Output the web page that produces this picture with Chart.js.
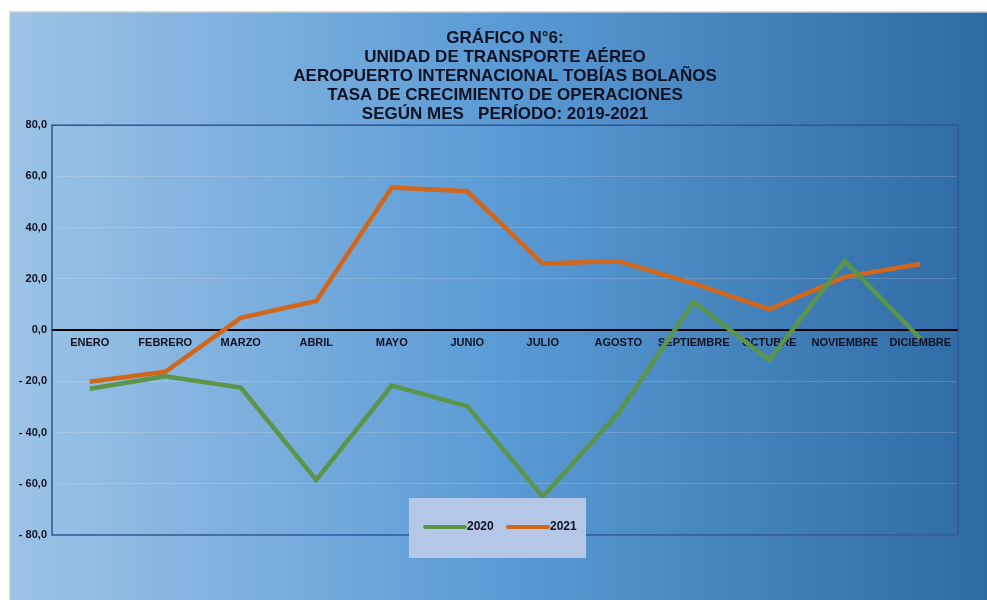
<!DOCTYPE html>
<html>
<head>
<meta charset="utf-8">
<script src="https://cdn.jsdelivr.net/npm/chart.js@4.4.1/dist/chart.umd.min.js"></script>
<style>
  html, body { margin: 0; padding: 0; background: #fff; }
  #wrap { width: 987px; height: 600px; }
</style>
</head>
<body>
<div id="wrap"><canvas id="tasaChart" width="987" height="600"></canvas></div>
<script>
// Datos
const meses = ["ENERO", "FEBRERO", "MARZO", "ABRIL", "MAYO", "JUNIO", "JULIO",
    "AGOSTO", "SEPTIEMBRE", "OCTUBRE", "NOVIEMBRE", "DICIEMBRE"];
const tasa2020 = [-22.9, -18.0, -22.4, -58.5, -21.7, -29.7, -65.0, -32.5, 11.0, -11.7, 26.9, -3.3];
const tasa2021 = [-20.2, -16.3, 4.8, 11.4, 55.7, 54.2, 26.0, 26.9, 18.2, 8.1, 20.8, 25.8];
const tituloLineas = [
    "GRÁFICO N°6:",
    "UNIDAD DE TRANSPORTE AÉREO",
    "AEROPUERTO INTERNACIONAL TOBÍAS BOLAÑOS",
    "TASA DE CRECIMIENTO DE OPERACIONES",
    "SEGÚN MES   PERÍODO: 2019-2021"
];

const fuente = "'Liberation Sans', Arial, sans-serif";

function formatoTick(v) {
    var txt = Math.abs(v).toFixed(1).replace(".", ",");
    return v < 0 ? "- " + txt : txt;
}

// fondo degradado y marco del area de trazado
const fondoPlugin = {
    id: "fondo",
    beforeDraw(chart) {
        const ctx = chart.ctx;
        const w = chart.width, h = chart.height;
        ctx.save();
        ctx.fillStyle = "#ffffff";
        ctx.fillRect(0, 0, w, h);
        const g = ctx.createLinearGradient(10, 0, w, 0);
        g.addColorStop(0, "#9dc3e6");
        g.addColorStop(0.5, "#5b9bd5");
        g.addColorStop(1, "#2e6aa3");
        ctx.fillStyle = g;
        ctx.fillRect(10, 12, w - 10, h - 12);
        ctx.strokeStyle = "#c4ccd4";
        ctx.lineWidth = 1.5;
        ctx.beginPath();
        ctx.moveTo(10, h);
        ctx.lineTo(10, 12);
        ctx.lineTo(w, 12);
        ctx.stroke();
        ctx.restore();
    },
    beforeDatasetsDraw(chart) {
        const a = chart.chartArea;
        const ctx = chart.ctx;
        ctx.save();
        ctx.strokeStyle = "#2f5597";
        ctx.lineWidth = 1.5;
        ctx.strokeRect(a.left, a.top, a.right - a.left, a.bottom - a.top);
        ctx.restore();
    }
};

// leyenda en recuadro dentro del area
const leyendaPlugin = {
    id: "leyendaCaja",
    afterDatasetsDraw(chart) {
        const ctx = chart.ctx;
        const a = chart.chartArea;
        const x0 = a.left + 357, y0 = a.bottom - 37;
        ctx.save();
        ctx.fillStyle = "#b4c7e7";
        ctx.fillRect(x0, y0, 177, 60);
        const yc = y0 + 29;
        let x = x0 + 16;
        chart.data.datasets.forEach(function (ds) {
            ctx.strokeStyle = ds.borderColor;
            ctx.lineWidth = 4;
            ctx.lineCap = "round";
            ctx.beginPath();
            ctx.moveTo(x, yc);
            ctx.lineTo(x + 40, yc);
            ctx.stroke();
            ctx.fillStyle = "#111122";
            ctx.font = "bold 12px " + fuente;
            ctx.textBaseline = "middle";
            ctx.fillText(ds.label, x + 42, yc);
            x += 83;
        });
        ctx.restore();
    }
};

const tasaChart = new Chart("tasaChart", {
    type: "line",
    data: {
        labels: meses,
        datasets: [
            {
                label: "2020",
                data: tasa2020,
                borderColor: "#5b9549",
                borderWidth: 4.5,
                pointRadius: 0,
                tension: 0
            },
            {
                label: "2021",
                data: tasa2021,
                borderColor: "#d2661b",
                borderWidth: 4.5,
                pointRadius: 0,
                tension: 0
            }]
    },
    plugins: [fondoPlugin, leyendaPlugin],
    options: {
        responsive: false,
        animation: false,
        layout: {
            padding: { left: 10, right: 29, bottom: 65, top: 0 }
        },
        plugins: {
            legend: { display: false },
            tooltip: { enabled: false },
            title: {
                display: true,
                text: tituloLineas,
                fullSize: false,
                color: "#111122",
                font: { family: fuente, size: 17, weight: "bold", lineHeight: 1.12 },
                padding: { top: 28.5, bottom: 1.5 }
            }
        },
        scales: {
            x: {
                position: { y: 0 },
                offset: true,
                grid: { display: false, drawTicks: false },
                border: { display: true, color: "#000000", width: 2 },
                ticks: {
                    autoSkip: false,
                    maxRotation: 0,
                    padding: 6,
                    color: "#111122",
                    font: { family: fuente, size: 11, weight: "bold" }
                }
            },
            y: {
                min: -80,
                max: 80,
                afterFit(scale) { scale.width = 42; },
                border: { display: false },
                grid: { color: "rgba(255,255,255,0.16)", lineWidth: 1, drawTicks: false },
                ticks: {
                    stepSize: 20,
                    padding: 5,
                    color: "#111122",
                    font: { family: fuente, size: 11, weight: "bold" },
                    callback: formatoTick
                }
            }
        }
    }
});
</script>
</body>
</html>
